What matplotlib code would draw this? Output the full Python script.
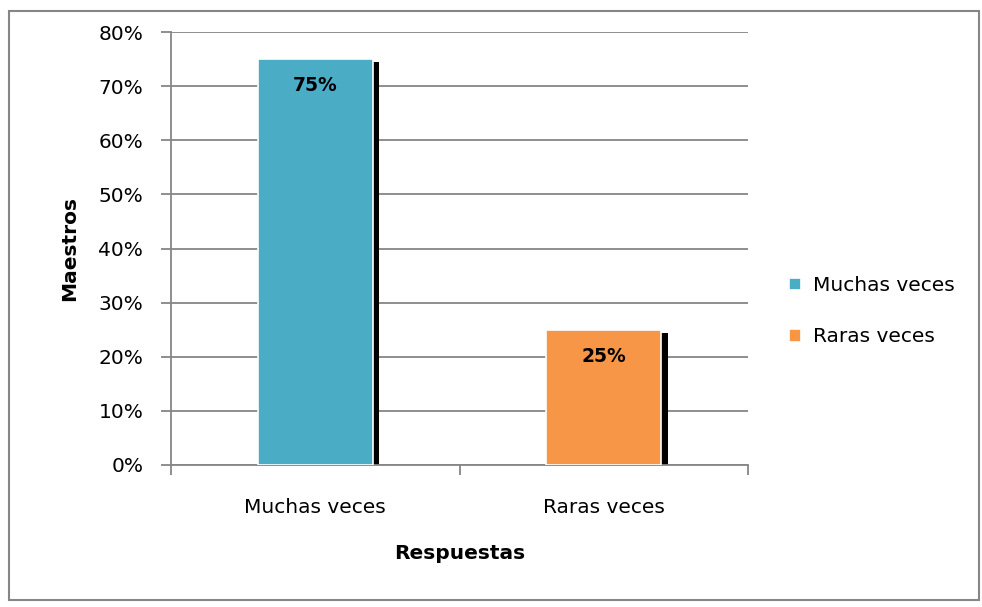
import matplotlib

matplotlib.use("Agg")
import matplotlib.pyplot as plt
from matplotlib.patches import Rectangle
from matplotlib.ticker import FuncFormatter, FixedLocator

plt.rcParams["font.family"] = ["DejaVu Sans"]

categorias = ["Muchas veces", "Raras veces"]
valores = [0.75, 0.25]
etiquetas = ["75%", "25%"]
colores = ["#4BACC6", "#F79646"]

fig = plt.figure(figsize=(9.82, 6.07), dpi=100)
fig.patches.append(Rectangle((9 / 982, 1 - 600 / 607), 970 / 982, 589 / 607,
                             transform=fig.transFigure, fill=False,
                             edgecolor="#868686", linewidth=1.5))
ax = fig.add_axes([171 / 982, 1 - 465 / 607, 577 / 982, 433 / 607])

x = list(range(len(categorias)))
w = 0.4
# sombra negra
ax.bar([i + 0.022 for i in x], [v - 0.006 for v in valores], width=w,
       color="black", zorder=2)
bars = ax.bar(x, valores, width=w, color=colores, edgecolor="white",
              linewidth=1.2, zorder=3, label=categorias)
for b, t in zip(bars, etiquetas):
    ax.annotate(t, (b.get_x() + b.get_width() / 2, b.get_height()),
                xytext=(0, -19), textcoords="offset points", ha="center",
                va="center", fontsize=13.5, fontweight="bold", zorder=4)

ax.set_xlim(-0.5, 1.5)
ax.set_ylim(0, 0.8)
ax.set_yticks([i / 10 for i in range(9)])
ax.yaxis.set_major_formatter(FuncFormatter(lambda v, p: f"{v * 100:.0f}%"))
ax.grid(axis="y", color="#868686", linewidth=1.3, zorder=0)
ax.set_axisbelow(True)
ax.set_xticks(x)
ax.set_xticklabels(categorias)
ax.xaxis.set_minor_locator(FixedLocator([-0.5, 0.5, 1.5]))
ax.tick_params(axis="x", which="major", length=0, pad=24, labelsize=14.5)
ax.tick_params(axis="x", which="minor", length=7, width=1.3, color="#868686")
ax.tick_params(axis="y", length=7, width=1.3, color="#868686", labelsize=14.5, pad=13)
for s in ["top", "right"]:
    ax.spines[s].set_visible(False)
for s in ["left", "bottom"]:
    ax.spines[s].set_color("#868686")
    ax.spines[s].set_linewidth(1.3)

ax.set_ylabel("Maestros", fontsize=14.5, fontweight="bold", labelpad=14)
ax.set_xlabel("Respuestas", fontsize=14.5, fontweight="bold", labelpad=19)

ax.legend(bars, categorias, loc="center left", bbox_to_anchor=(1.04, 0.355),
          frameon=False, fontsize=14.5, handlelength=0.6, handleheight=0.6,
          handletextpad=0.6, labelspacing=1.6)

fig.savefig("out.png", dpi=100)
